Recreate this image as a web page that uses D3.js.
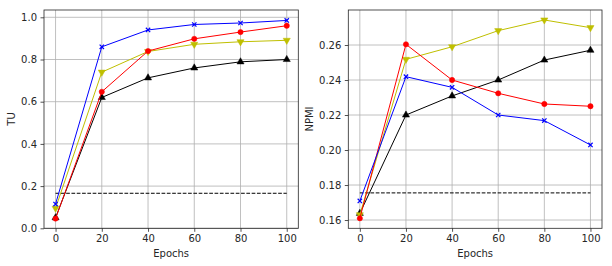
<!DOCTYPE html>
<html>
<head>
<meta charset="utf-8">
<script src="https://cdn.jsdelivr.net/npm/d3@7"></script>
<style>
  body { margin: 0; background: #fff; }
  text { font-family: "DejaVu Sans", sans-serif; }
</style>
</head>
<body>
<div id="chart"></div>
<script>
  // data
  let epochs = [0, 20, 40, 60, 80, 100];
  let tuBlue   = [0.115, 0.860, 0.940, 0.966, 0.973, 0.985];
  let tuRed    = [0.046, 0.647, 0.840, 0.898, 0.930, 0.960];
  let tuYellow = [0.095, 0.740, 0.838, 0.872, 0.884, 0.891];
  let tuBlack  = [0.050, 0.620, 0.713, 0.760, 0.789, 0.800];
  let tuBase = 0.166;

  let npmiBlue   = [0.1709, 0.2419, 0.2358, 0.2200, 0.2168, 0.2029];
  let npmiRed    = [0.1610, 0.2604, 0.2400, 0.2324, 0.2263, 0.2250];
  let npmiYellow = [0.1630, 0.2518, 0.2590, 0.2682, 0.2743, 0.2699];
  let npmiBlack  = [0.1638, 0.2200, 0.2309, 0.2400, 0.2514, 0.2570];
  let npmiBase = 0.1755;

  let xTicks = [0, 20, 40, 60, 80, 100];
  let tuTicks = [0.0, 0.2, 0.4, 0.6, 0.8, 1.0];
  let npmiTicks = [0.16, 0.18, 0.20, 0.22, 0.24, 0.26];

  let width = 612, height = 266;
  let svg = d3.select('#chart').append('svg')
    .attr('width', width)
    .attr('height', height)

  function panel(opts) {
    let x = d3.scaleLinear().domain([-5, 105]).range([opts.left, opts.right])
    let y = d3.scaleLinear().domain(opts.ydom).range([228.3, 10])
    let g = svg.append('g')

    // grid
    g.selectAll('.gx').data(xTicks).enter().append('line')
      .attr('x1', d => x(d)).attr('x2', d => x(d))
      .attr('y1', 10).attr('y2', 228.3)
      .attr('stroke', '#b0b0b0').attr('stroke-width', 0.8)
    g.selectAll('.gy').data(opts.yticks).enter().append('line')
      .attr('x1', opts.left).attr('x2', opts.right)
      .attr('y1', d => y(d)).attr('y2', d => y(d))
      .attr('stroke', '#b0b0b0').attr('stroke-width', 0.8)

    // axes
    let xa = g.append('g').attr('transform', 'translate(0,228.3)')
      .call(d3.axisBottom(x).tickValues(xTicks).tickSize(3.5).tickPadding(3.5).tickFormat(d3.format('d')))
    let ya = g.append('g').attr('transform', 'translate(' + opts.left + ',0)')
      .call(d3.axisLeft(y).tickValues(opts.yticks).tickSize(3.5).tickPadding(3.5).tickFormat(d3.format(opts.fmt)))
    ;[xa, ya].forEach(a => {
      a.select('.domain').remove()
      a.selectAll('text').attr('font-size', '10px').attr('fill', '#262626')
      a.selectAll('line').attr('stroke', '#262626').attr('stroke-width', 0.8)
    })

    // dashed baseline
    g.append('line')
      .attr('x1', x(0)).attr('x2', x(100))
      .attr('y1', y(opts.base)).attr('y2', y(opts.base))
      .attr('stroke', '#000').attr('stroke-width', 1)
      .attr('stroke-dasharray', '3.7,1.6')

    let line = d3.line().x((d, i) => x(epochs[i])).y(d => y(d))
    opts.series.forEach(s => {
      g.append('path').datum(s.values)
        .attr('d', line)
        .attr('fill', 'none').attr('stroke', s.color).attr('stroke-width', 1)
      let sym = d3.symbol().type(s.shape).size(s.size)
      g.selectAll(null).data(s.values).enter().append('path')
        .attr('d', sym)
        .attr('transform', (d, i) => 'translate(' + x(epochs[i]) + ',' + y(d) + ')' + (s.rot ? ' rotate(180)' : ''))
        .attr('fill', s.shape === d3.symbolX ? 'none' : s.color)
        .attr('stroke', s.color)
        .attr('stroke-width', s.shape === d3.symbolX ? 1.2 : 0.5)
    })

    // frame
    g.append('rect')
      .attr('x', opts.left).attr('y', 10)
      .attr('width', opts.right - opts.left).attr('height', 218.3)
      .attr('fill', 'none').attr('stroke', '#262626').attr('stroke-width', 0.8)

    svg.append('text')
      .attr('x', (opts.left + opts.right) / 2).attr('y', 257)
      .attr('text-anchor', 'middle').attr('font-size', '10px').attr('fill', '#262626')
      .text('Epochs')
    svg.append('text')
      .attr('transform', 'translate(' + opts.ylabelX + ',' + 119 + ') rotate(-90)')
      .attr('text-anchor', 'middle').attr('font-size', '10px').attr('fill', '#262626')
      .text(opts.ylabel)
  }

  function seriesOf(b, r, yl, k) {
    return [
      { values: k,  color: '#000000', shape: d3.symbolTriangle, size: 22 },
      { values: yl, color: '#bfbf00', shape: d3.symbolTriangle, size: 22, rot: true },
      { values: r,  color: '#ff0000', shape: d3.symbolCircle, size: 22 },
      { values: b,  color: '#0000ff', shape: d3.symbolX, size: 14 }
    ]
  }

  panel({
    left: 44, right: 298.3, ydom: [0, 1.0346], yticks: tuTicks, fmt: '.1f',
    base: tuBase, ylabel: 'TU', ylabelX: 15,
    series: seriesOf(tuBlue, tuRed, tuYellow, tuBlack)
  })
  panel({
    left: 348.3, right: 602, ydom: [0.15527, 0.28], yticks: npmiTicks, fmt: '.2f',
    base: npmiBase, ylabel: 'NPMI', ylabelX: 313,
    series: seriesOf(npmiBlue, npmiRed, npmiYellow, npmiBlack)
  })
</script>
</body>
</html>
